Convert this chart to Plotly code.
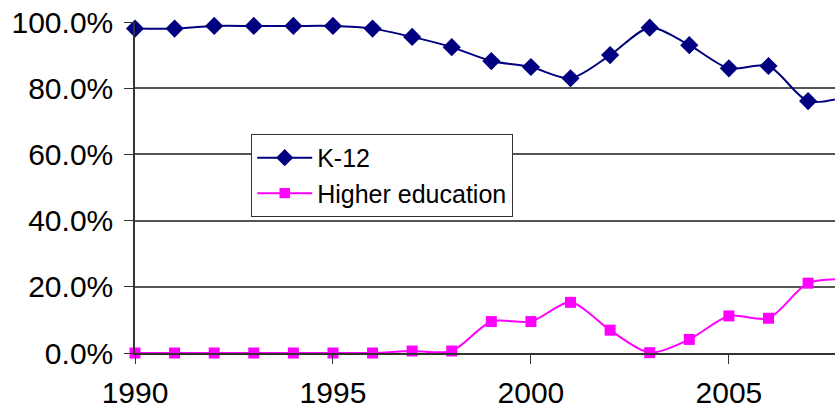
import plotly.graph_objects as go

years = list(range(1990, 2009))
k12 = [98.0, 98.0, 98.8, 98.8, 98.8, 98.8, 98.0, 95.5, 92.4, 88.2, 86.4, 83.0,
       90.0, 98.3, 93.0, 86.0, 86.7, 76.1, 77.5]
higher = [0.0, 0.0, 0.0, 0.0, 0.0, 0.0, 0.0, 0.6, 0.6, 9.5, 9.5, 15.3,
          6.9, 0.1, 4.1, 11.2, 10.5, 21.1, 22.3]
series_names = ["K-12", "Higher education"]

k12_frac = [v / 100 for v in k12]
higher_frac = [v / 100 for v in higher]
n = len(years)

fig = go.Figure()
fig.add_trace(go.Scatter(
    x=years, y=k12_frac, name=series_names[0], mode="lines+markers",
    line=dict(color="#000080", width=2, shape="spline", smoothing=0.8),
    marker=dict(symbol="diamond", size=[14] * (n - 1) + [0], color="#000080",
                opacity=1, line=dict(width=0)),
    cliponaxis=False, legendgroup="a",
))
fig.add_trace(go.Scatter(
    x=years, y=higher_frac, name=series_names[1], mode="lines+markers",
    line=dict(color="#FF00FF", width=2, shape="spline", smoothing=0.8),
    marker=dict(symbol="square", size=[11] * (n - 1) + [0], color="#FF00FF",
                opacity=1, line=dict(width=0)),
    cliponaxis=False, legendgroup="b",
))

fig.update_layout(
    width=835, height=410,
    margin=dict(l=135, r=0, t=22, b=57),
    paper_bgcolor="white", plot_bgcolor="white",
    font=dict(family="Liberation Sans, Arial, sans-serif", color="black"),
    showlegend=True,
    legend=dict(
        x=0.166, y=0.662, xanchor="left", yanchor="top",
        bgcolor="white", bordercolor="#333", borderwidth=1,
        font=dict(size=25), itemwidth=55, tracegroupgap=0,
        traceorder="grouped",
    ),
    xaxis=dict(
        range=[1990, 2007.68], tickmode="linear", tick0=1990, dtick=5,
        showgrid=False, showline=True, linecolor="#333", linewidth=1.5,
        ticks="outside", ticklen=9, tickcolor="#333", ticklabelstandoff=3,
        tickfont=dict(size=30), zeroline=False, automargin=False,
        ticklabeloverflow="allow",
    ),
    yaxis=dict(
        range=[0, 1], tickmode="linear", tick0=0, dtick=0.2, tickformat=".1%",
        showgrid=True, gridcolor="#555", gridwidth=1.5,
        showline=True, linecolor="#333", linewidth=1.5,
        ticks="outside", ticklen=9, tickcolor="#333", ticklabelstandoff=5,
        tickfont=dict(size=30), zeroline=False, automargin=False,
        ticklabeloverflow="allow",
    ),
)

fig.write_html(
    "out.html",
    config={"displayModeBar": False},
    post_script="document.body.style.margin='0';document.body.style.overflow='hidden';",
)
